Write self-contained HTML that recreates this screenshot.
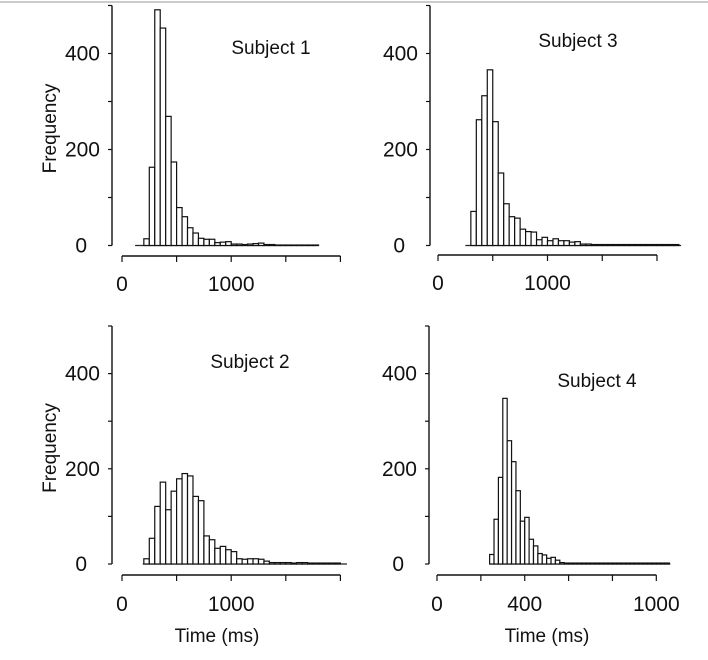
<!DOCTYPE html>
<html><head><meta charset="utf-8">
<style>
html,body{margin:0;padding:0;background:#fff;}
svg{display:block;font-family:"Liberation Sans",sans-serif;}
</style></head>
<body>
<svg id="fig" width="708" height="660" viewBox="0 0 708 660">
<line x1="0" y1="2" x2="708" y2="2" stroke="#bbb" stroke-width="1.5"/>
</svg>
<script>
// Subject 1 (bins of 50 ms starting at 200)
const s1Start = 200, s1Bin = 50;
const s1Counts = [14,163,491,453,269,174,79,60,37,26,15,13,13,6,7,8,3,3,2,3,4,5,2,2,1,1,1,1,1,1,1,1];
// Subject 2
const s2Start = 200, s2Bin = 50;
const s2Counts = [11,54,121,172,114,153,179,190,185,142,133,59,51,33,37,30,26,11,10,11,11,10,6,3,3,3,3,2,3,3,2,2,2,2,2,2];
// Subject 3
const s3Start = 300, s3Bin = 50;
const s3Counts = [71,262,312,366,258,151,87,60,57,34,29,28,12,17,10,14,10,10,7,8,3,3,2,2,2,2,2,2,2,2,2,2,2,2,2,2,2,2];
// Subject 4 (bins of 20 ms starting at 240)
const s4Start = 240, s4Bin = 20;
const s4Counts = [20,94,182,348,259,215,154,90,98,52,38,22,19,12,14,8,3,2,2,2,2,2,2,2,2,2,2,2,2,2,2,2,2,2,2,2,2,2,2,2,2];
const yTickValues = [0,100,200,300,400,500];
const yTickLabels = ["0","","200","","400",""];
const xTicks12 = [0,500,1000,1500,2000];
const xLabels12 = ["0","","1000","",""];
const xTicks4 = [0,200,400,600,800,1000];
const xLabels4 = ["0","","400","","","1000"];

const NS="http://www.w3.org/2000/svg";
const svg=document.getElementById('fig');
function mk(tag,attrs,parent){const e=document.createElementNS(NS,tag);for(const k in attrs)e.setAttribute(k,attrs[k]);(parent||svg).appendChild(e);return e;}

const panels=[
 {id:'subject-1',title:'Subject 1',tx:271,ty:54,yAxisX:112,base:245.5,ppu:0.48,x0:122,ppms:0.1092,start:s1Start,bin:s1Bin,counts:s1Counts,lineFrom:120,lineTo:1800,xTicks:xTicks12,xLabels:xLabels12,axisY:256,lblY:291,freq:true,timeLbl:false,tlx:0},
 {id:'subject-3',title:'Subject 3',tx:578,ty:47,yAxisX:430,base:245.5,ppu:0.48,x0:438,ppms:0.1095,start:s3Start,bin:s3Bin,counts:s3Counts,lineFrom:250,lineTo:2220,xTicks:xTicks12,xLabels:xLabels12,axisY:255,lblY:290,freq:false,timeLbl:false,tlx:0},
 {id:'subject-2',title:'Subject 2',tx:250,ty:368,yAxisX:112,base:564,ppu:0.476,x0:122,ppms:0.1092,start:s2Start,bin:s2Bin,counts:s2Counts,lineFrom:190,lineTo:2060,xTicks:xTicks12,xLabels:xLabels12,axisY:575,lblY:611,freq:true,timeLbl:true,tlx:217},
 {id:'subject-4',title:'Subject 4',tx:597,ty:387,yAxisX:429,base:564,ppu:0.476,x0:437,ppms:0.2193,start:s4Start,bin:s4Bin,counts:s4Counts,lineFrom:240,lineTo:1064,xTicks:xTicks4,xLabels:xLabels4,axisY:575,lblY:611,freq:false,timeLbl:true,tlx:547}
];

panels.forEach(p=>{
 const g=mk('g',{});
 
 
 const X=v=>p.x0+v*p.ppms, Y=v=>p.base-v*p.ppu;
 const ya=mk('line',{x1:p.yAxisX,y1:Y(500),x2:p.yAxisX,y2:Y(0),stroke:'#111','stroke-width':1.4},g);
 
 
 yTickValues.forEach((v,i)=>{
  const t=mk('line',{x1:p.yAxisX-4,y1:Y(v),x2:p.yAxisX,y2:Y(v),stroke:'#111','stroke-width':1.2},g);
  
  
  if(yTickLabels[i]){
   const rx = v===0 ? p.yAxisX-25 : p.yAxisX-12;
   const tx=mk('text',{x:rx,y:Y(v)+7,'font-size':21,'text-anchor':'end',fill:'#111'},g);
   tx.textContent=yTickLabels[i];
   
   
  }
 });
 const bl=mk('line',{x1:X(p.lineFrom),y1:p.base,x2:X(p.lineTo),y2:p.base,stroke:'#222','stroke-width':1.2},g);
 
 
 p.counts.forEach((c,i)=>{
  const x=X(p.start+i*p.bin), w=p.bin*p.ppms;
  const r=mk('rect',{x:x,y:Y(c),width:w,height:c*p.ppu,fill:'#fff',stroke:'#111','stroke-width':1.2},g);
  
  
 });
 const xt=p.xTicks;
 const xa=mk('line',{x1:X(xt[0]),y1:p.axisY,x2:X(xt[xt.length-1]),y2:p.axisY,stroke:'#111','stroke-width':1.4},g);
 
 
 xt.forEach((v,i)=>{
  const t=mk('line',{x1:X(v),y1:p.axisY,x2:X(v),y2:p.axisY+6,stroke:'#111','stroke-width':1.2},g);
  
  
  if(p.xLabels[i]){
   const tx=mk('text',{x:X(v),y:p.lblY,'font-size':21,'text-anchor':'middle',fill:'#111'},g);
   tx.textContent=p.xLabels[i];
   
   
  }
 });
 const tt=mk('text',{x:p.tx,y:p.ty,'font-size':19,'text-anchor':'middle',fill:'#111'},g);
 tt.textContent=p.title;
 
 
 if(p.freq){
  const cy=(Y(0)+Y(500))/2+3;
  const f=mk('text',{x:0,y:0,'font-size':19,'text-anchor':'middle',fill:'#111',transform:'translate(56,'+cy+') rotate(-90)'},g);
  f.textContent='Frequency';
  
  
 }
 if(p.timeLbl){
  const f=mk('text',{x:p.tlx,y:642,'font-size':19,'text-anchor':'middle',fill:'#111'},g);
  f.textContent='Time (ms)';
  
  
 }
});
</script>
</body></html>
